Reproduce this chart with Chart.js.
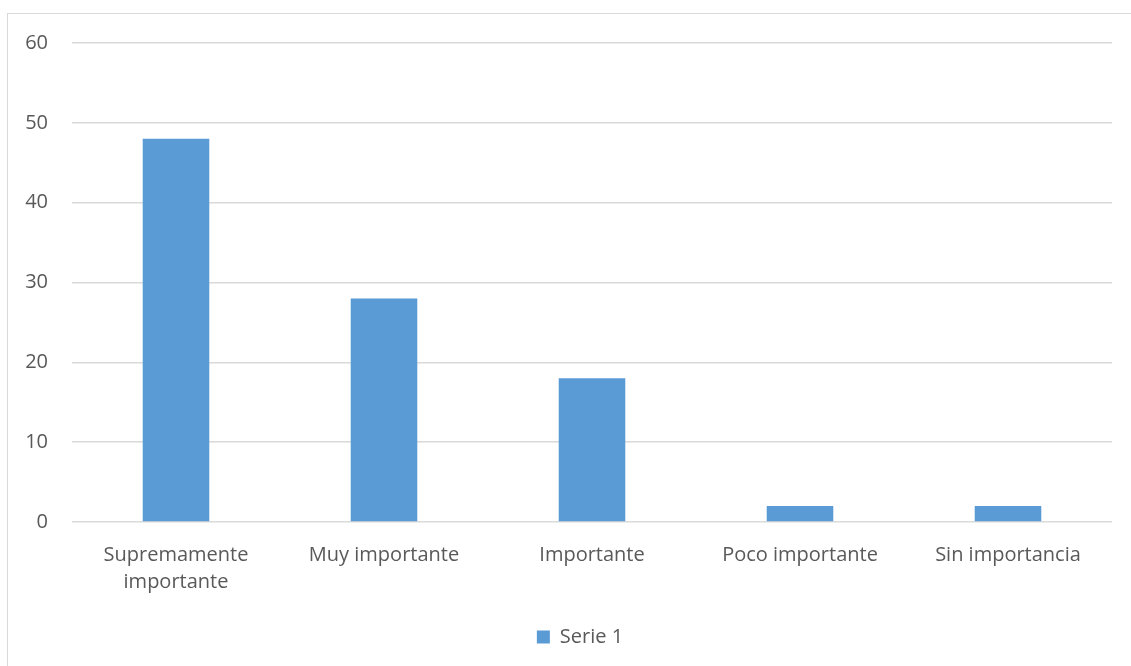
<!DOCTYPE html>
<html>
<head>
<meta charset="utf-8">
<script src="https://cdn.jsdelivr.net/npm/chart.js@4.4.0/dist/chart.umd.min.js"></script>
<style>
  html, body { margin: 0; padding: 0; background: #fff; overflow: hidden; }
  .marco {
    position: absolute; left: 7px; top: 13px;
    width: 1300px; height: 800px;
    border: 1.5px solid #d9d9d9;
  }
  .lienzo { position: absolute; left: 0; top: 0; width: 1131px; height: 666px; }
</style>
</head>
<body>
<div class="marco"></div>
<div class="lienzo"><canvas id="grafico" width="1131" height="666"></canvas></div>
<script>
// Datos del gráfico
var categorias = [['Supremamente', 'importante'], 'Muy importante', 'Importante', 'Poco importante', 'Sin importancia'];
var serie1 = [48, 28, 18, 2, 2];
var nombreSerie = 'Serie 1';
var ejeMin = 0, ejeMax = 60, ejePaso = 10;

var colorTexto = '#595959';
var fuente = { family: "'Open Sans', sans-serif", size: 20, lineHeight: 1.35 };

// corre la leyenda un poco a la derecha
var moverLeyenda = {
    id: 'moverLeyenda',
    afterLayout: function(chart) {
        chart.legend.left += 13;
        chart.legend.right += 13;
    }
};

var ctx = document.getElementById('grafico').getContext('2d');
new Chart(ctx, {
    type: 'bar',
    data: {
        labels: categorias,
        datasets: [{
            label: nombreSerie,
            data: serie1,
            backgroundColor: '#5b9bd5',
            borderWidth: 0,
            categoryPercentage: 1,
            barPercentage: 0.32
        }]
    },
    plugins: [moverLeyenda],
    options: {
        responsive: false,
        animation: false,
        layout: { padding: { left: 22, right: 19, top: 43, bottom: 9 } },
        plugins: {
            tooltip: { enabled: false },
            legend: {
                position: 'bottom',
                labels: {
                    color: colorTexto,
                    font: fuente,
                    boxWidth: 13,
                    boxHeight: 13,
                    padding: 10
                }
            }
        },
        scales: {
            x: {
                grid: { display: false, drawTicks: false },
                border: { display: false },
                ticks: { color: colorTexto, font: fuente, padding: 20, maxRotation: 0, autoSkip: false },
                afterFit: function(eje) { eje.height = 95; }
            },
            y: {
                min: ejeMin,
                max: ejeMax,
                grid: { color: '#d9d9d9', lineWidth: 1.5, drawTicks: false },
                border: { display: false },
                ticks: { color: colorTexto, font: fuente, padding: 24, stepSize: ejePaso },
                afterFit: function(eje) { eje.width = 50; }
            }
        }
    }
});
</script>
</body>
</html>
